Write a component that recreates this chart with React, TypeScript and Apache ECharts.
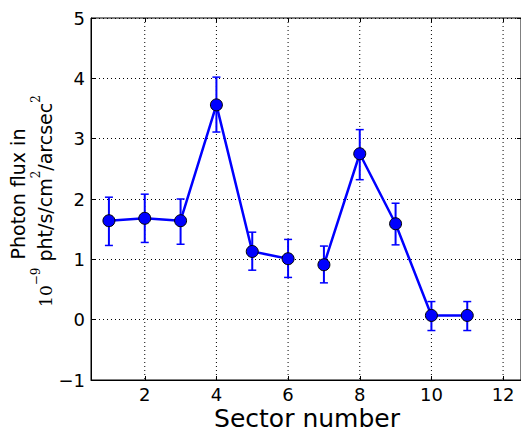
import React, { useEffect, useRef } from "react";
import * as echarts from "echarts";

const sectors = [1, 2, 3, 4, 5, 6, 7, 8, 9, 10, 11];
const flux = [1.64, 1.68, 1.64, 3.56, 1.13, 1.01, 0.91, 2.75, 1.59, 0.07, 0.07];
const errLow = [1.23, 1.28, 1.25, 3.11, 0.82, 0.7, 0.61, 2.32, 1.24, -0.18, -0.18];
const errHigh = [2.03, 2.08, 2.0, 4.02, 1.45, 1.33, 1.22, 3.15, 1.93, 0.3, 0.3];
const segments = [
  [1, 6],
  [7, 11],
];
const xTicks = [2, 4, 6, 8, 10, 12];

const BLUE = "#0000ff";
const FONT = "DejaVu Sans";

export default function App() {
  const ref = useRef<HTMLDivElement>(null);
  useEffect(() => {
    if (!ref.current) return;
    const chart = echarts.init(ref.current, undefined, { renderer: "svg" });
    const fmtY = (v: number) => (v < 0 ? "\u2212" + Math.abs(v) : String(v));
    const gridLine = { show: true, lineStyle: { color: "#000", type: [1, 3], width: 1 } };
    const tick = { show: true, inside: true, length: 4, lineStyle: { color: "#000" } };
    const lineSeries = segments.map(([a, b]) => ({
      type: "line",
      xAxisIndex: 0,
      yAxisIndex: 0,
      data: sectors
        .map((s, i) => [s, flux[i]])
        .filter((d) => d[0] >= a && d[0] <= b),
      symbol: "circle",
      symbolSize: 12,
      itemStyle: { color: BLUE, borderColor: "#000", borderWidth: 1 },
      lineStyle: { color: BLUE, width: 2.5 },
      z: 5,
    }));
    const option: any = {
      animation: false,
      grid: {
        left: 91,
        top: 18,
        bottom: 52,
        right: -1,
        show: true,
        borderColor: "#000",
        borderWidth: 1,
      },
      xAxis: [
        {
          type: "value",
          min: 0.5,
          max: 12.5,
          position: "bottom",
          axisLine: { show: true, onZero: false, lineStyle: { color: "#000" } },
          axisTick: { ...tick, customValues: xTicks },
          axisLabel: {
            customValues: xTicks,
            color: "#000",
            fontSize: 18,
            fontFamily: FONT,
            margin: 5,
          },
          splitLine: { show: false },
        },
        {
          type: "value",
          min: 0.5,
          max: 12.5,
          position: "top",
          axisLine: { show: false, onZero: false },
          axisTick: { ...tick, customValues: xTicks },
          axisLabel: { show: false, customValues: xTicks },
          splitLine: { show: false },
        },
      ],
      yAxis: [
        {
          type: "value",
          min: -1,
          max: 5,
          interval: 1,
          axisLine: { show: true, onZero: false, lineStyle: { color: "#000" } },
          axisTick: tick,
          axisLabel: {
            color: "#000",
            fontSize: 18,
            fontFamily: FONT,
            margin: 6,
            formatter: fmtY,
          },
          splitLine: gridLine,
        },
        {
          type: "value",
          min: -1,
          max: 5,
          interval: 1,
          position: "right",
          axisLine: { show: false, onZero: false },
          axisTick: tick,
          axisLabel: { show: false },
          splitLine: { show: false },
        },
      ],
      series: [
        {
          type: "custom",
          xAxisIndex: 0,
          yAxisIndex: 0,
          data: xTicks.map((t) => [t]),
          renderItem: (params: any, api: any) => {
            const x = api.value(0);
            const top = api.coord([x, 5]);
            const bot = api.coord([x, -1]);
            return {
              type: "line",
              shape: { x1: top[0], y1: top[1], x2: bot[0], y2: bot[1] },
              style: { stroke: "#000", lineWidth: 1, lineDash: [1, 3] },
              silent: true,
            };
          },
          z: 1,
        },
        {
          type: "custom",
          xAxisIndex: 0,
          yAxisIndex: 0,
          data: sectors.map((s, i) => [s, errLow[i], errHigh[i]]),
          renderItem: (params: any, api: any) => {
            const x = api.value(0);
            const lo = api.coord([x, api.value(1)]);
            const hi = api.coord([x, api.value(2)]);
            const hw = 4;
            const st = { stroke: BLUE, lineWidth: 2 };
            return {
              type: "group",
              children: [
                { type: "line", shape: { x1: lo[0], y1: lo[1], x2: hi[0], y2: hi[1] }, style: st },
                { type: "line", shape: { x1: lo[0] - hw, y1: lo[1], x2: lo[0] + hw, y2: lo[1] }, style: { stroke: BLUE, lineWidth: 1.5 } },
                { type: "line", shape: { x1: hi[0] - hw, y1: hi[1], x2: hi[0] + hw, y2: hi[1] }, style: { stroke: BLUE, lineWidth: 1.5 } },
              ],
            };
          },
          z: 4,
        },
        ...lineSeries,
      ],
      graphic: [
        {
          type: "text",
          x: 307,
          y: 418,
          style: {
            text: "Sector number",
            font: `25px "${FONT}"`,
            fill: "#000",
            align: "center",
            verticalAlign: "middle",
          },
        },
        {
          type: "text",
          x: 18,
          y: 194,
          rotation: Math.PI / 2,
          style: {
            text: "Photon flux in",
            font: `19px "${FONT}"`,
            fill: "#000",
            align: "center",
            verticalAlign: "middle",
          },
        },
        {
          type: "text",
          x: 42,
          y: 201,
          rotation: Math.PI / 2,
          style: {
            text: "{m|10}{ms|\u22129}{n| pht/s/cm}{s|2}{n|/arcsec}{s|2}",
            align: "center",
            verticalAlign: "middle",
            fill: "#000",
            rich: {
              m: { fontFamily: "DejaVu Serif", fontSize: 17, fill: "#000", verticalAlign: "bottom", lineHeight: 24 },
              ms: { fontFamily: "DejaVu Serif", fontSize: 12, fill: "#000", verticalAlign: "top", lineHeight: 24 },
              n: { fontFamily: FONT, fontSize: 19, fill: "#000", verticalAlign: "bottom", lineHeight: 24 },
              s: { fontFamily: "DejaVu Serif", fontSize: 12, fill: "#000", verticalAlign: "top", lineHeight: 24 },
            },
          },
        },
      ],
    };
    chart.setOption(option);
    return () => chart.dispose();
  }, []);
  return (
    <div
      ref={ref}
      style={{ position: "fixed", left: 0, top: 0, width: 521, height: 432, background: "#fff" }}
    />
  );
}
